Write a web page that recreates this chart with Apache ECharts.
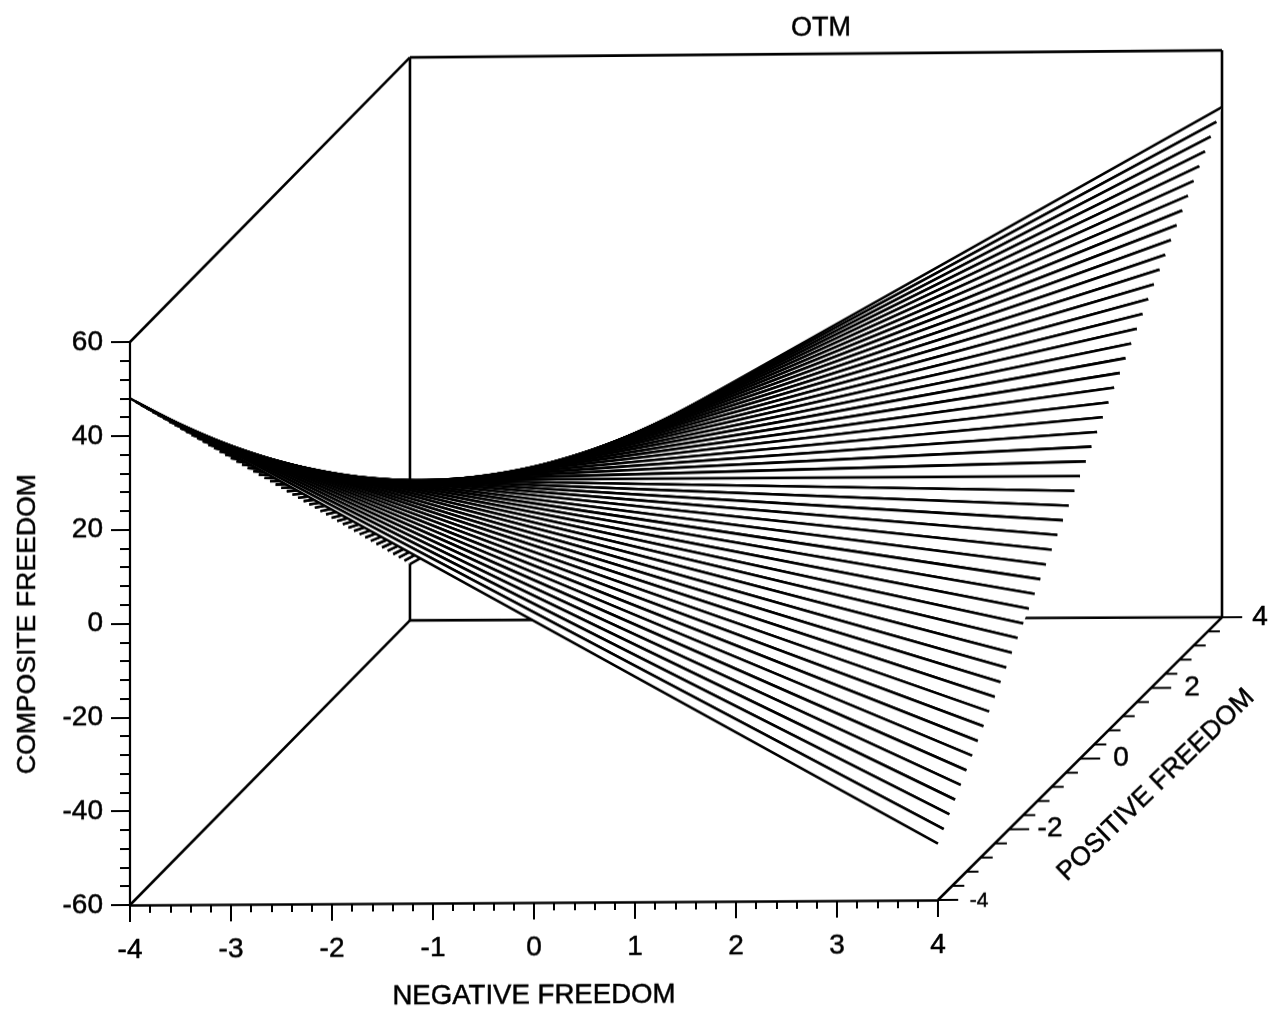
<!DOCTYPE html>
<html><head><meta charset="utf-8">
<style>
html,body{margin:0;padding:0;background:#fff;overflow:hidden}
#c{width:1271px;height:1015px;transform-origin:130px 905px;transform:skewY(-0.355deg)}
</style>
<script src="https://cdn.jsdelivr.net/npm/echarts@6/dist/echarts.min.js"></script>
</head><body><div id="c"></div>
<script>
// Values: one line per POSITIVE FREEDOM level, running from NEGATIVE FREEDOM -4 to 4
const positiveLevels=[-4,-3.84,-3.68,-3.52,-3.36,-3.2,-3.04,-2.88,-2.72,-2.56,-2.4,-2.24,-2.08,-1.92,-1.76,-1.6,-1.44,-1.28,-1.12,-0.96,-0.8,-0.64,-0.48,-0.32,-0.16,0,0.16,0.32,0.48,0.64,0.8,0.96,1.12,1.28,1.44,1.6,1.76,1.92,2.08,2.24,2.4,2.56,2.72,2.88,3.04,3.2,3.36,3.52,3.68,3.84,4];
const compositeAtLeft=[48,46.08,44.16,42.24,40.32,38.4,36.48,34.56,32.64,30.72,28.8,26.88,24.96,23.04,21.12,19.2,17.28,15.36,13.44,11.52,9.6,7.68,5.76,3.84,1.92,0,-1.92,-3.84,-5.76,-7.68,-9.6,-11.52,-13.44,-15.36,-17.28,-19.2,-21.12,-23.04,-24.96,-26.88,-28.8,-30.72,-32.64,-34.56,-36.48,-38.4,-40.32,-42.24,-44.16,-46.08,-48];
const compositeAtRight=[-48,-46.08,-44.16,-42.24,-40.32,-38.4,-36.48,-34.56,-32.64,-30.72,-28.8,-26.88,-24.96,-23.04,-21.12,-19.2,-17.28,-15.36,-13.44,-11.52,-9.6,-7.68,-5.76,-3.84,-1.92,0,1.92,3.84,5.76,7.68,9.6,11.52,13.44,15.36,17.28,19.2,21.12,23.04,24.96,26.88,28.8,30.72,32.64,34.56,36.48,38.4,40.32,42.24,44.16,46.08,48];
const negativeMin=-4, negativeMax=4, compositeMin=-60, compositeMax=60, positiveMin=-4, positiveMax=4;
const positiveMajorTicks=[-4,-2,0,2,4];
const positiveMinorTicks=[-3.6,-3.2,-2.8,-2.4,-1.6,-1.2,-0.8,-0.4,0.4,0.8,1.2,1.6,2.4,2.8,3.2,3.6];
// cube edges: [negative, positive, composite] -> [negative, positive, composite]
const cubeEdges=[
 [-4,-4,60,-4,4,60],[-4,4,60,4,4,60],[4,4,60,4,4,-60],[-4,4,60,-4,4,-60],
 [-4,-4,-60,-4,4,-60],[-4,4,-60,4,4,-60],[4,-4,-60,4,4,-60]];
const titleText='OTM', xName='NEGATIVE FREEDOM', yName='COMPOSITE FREEDOM', depthName='POSITIVE FREEDOM';

// oblique view: how far the back of the cube shifts, in axis units
const depthShiftX=2.792, depthShiftZ=60.3, backScaleX=0.005, backScaleZ=0.007;
const FONT='"Liberation Sans",Arial,sans-serif';
function project(x,y,z){
  const t=(y-positiveMin)/(positiveMax-positiveMin), u=(x-negativeMin)/(negativeMax-negativeMin);
  return [x*(1+backScaleX*t)+t*depthShiftX,z*(1+backScaleZ*t*u)+t*depthShiftZ];
}

const strips=[];
for(let k=positiveLevels.length-1;k>0;k--){
  strips.push([positiveLevels[k],compositeAtLeft[k],compositeAtRight[k],positiveLevels[k-1],compositeAtLeft[k-1],compositeAtRight[k-1]]);
}
const lineStyle={stroke:'#000',lineWidth:2.6,fill:null};
const heavy={textBorderColor:'#000',textBorderWidth:0.5};
const chart=echarts.init(document.getElementById('c'),null,{renderer:'canvas'});
const base={type:'custom',coordinateSystem:'cartesian2d',clip:false,silent:true,animation:false,encode:{x:0,y:1}};
chart.setOption({
 animation:false,backgroundColor:'#fff',
 title:{text:titleText,left:786,top:14,textStyle:Object.assign({fontFamily:FONT,fontSize:27,fontWeight:'normal',color:'#000'},heavy)},
 grid:{left:130,top:342,width:808,height:563,containLabel:false,outerBoundsMode:'none'},
 xAxis:{type:'value',min:negativeMin,max:negativeMax,interval:1,name:xName,nameLocation:'middle',nameGap:79,
  nameTextStyle:Object.assign({fontFamily:FONT,fontSize:27.6,color:'#000'},heavy),
  axisLine:{show:true,onZero:false,lineStyle:{color:'#000',width:2.6}},
  axisTick:{show:true,length:17,lineStyle:{color:'#000',width:2}},
  minorTick:{show:true,splitNumber:5,length:8,lineStyle:{color:'#000',width:2}},
  splitLine:{show:false},minorSplitLine:{show:false},
  axisLabel:Object.assign({margin:31,fontFamily:FONT,fontSize:28,color:'#000',showMinLabel:true,showMaxLabel:true},heavy)},
 yAxis:{type:'value',min:compositeMin,max:compositeMax,interval:20,name:yName,nameLocation:'middle',nameGap:89,
  nameTextStyle:Object.assign({fontFamily:FONT,fontSize:26.6,color:'#000'},heavy),
  axisLine:{show:true,onZero:false,lineStyle:{color:'#000',width:2.2}},
  axisTick:{show:true,length:19,lineStyle:{color:'#000',width:2}},
  minorTick:{show:true,splitNumber:5,length:10,lineStyle:{color:'#000',width:2}},
  splitLine:{show:false},minorSplitLine:{show:false},
  axisLabel:Object.assign({margin:27,fontFamily:FONT,fontSize:28,color:'#000',showMinLabel:true,showMaxLabel:true},heavy)},
 series:[
  Object.assign({},base,{name:'cube',data:cubeEdges,renderItem(p,api){
    const a=api.coord(project(api.value(0),api.value(1),api.value(2)));
    const b=api.coord(project(api.value(3),api.value(4),api.value(5)));
    return {type:'polyline',shape:{points:[a,b]},style:lineStyle};
  }}),
  Object.assign({},base,{name:'depth ticks',data:positiveMajorTicks.map(v=>[v,0.2]).concat(positiveMinorTicks.map(v=>[v,0.12])),renderItem(p,api){
    const q=project(negativeMax,api.value(0),compositeMin);
    const a=api.coord(q);
    const b=api.coord([q[0]+api.value(1),q[1]]);
    return {type:'polyline',shape:{points:[a,b]},style:{stroke:'#000',lineWidth:2,fill:null}};
  }}),
  Object.assign({},base,{name:'surface',data:strips,renderItem(p,api){
    const y0=api.value(0),l0=api.value(1),r0=api.value(2),y1=api.value(3),l1=api.value(4),r1=api.value(5);
    const A=api.coord(project(negativeMin,y0,l0)),B=api.coord(project(negativeMax,y0,r0));
    const C=api.coord(project(negativeMax,y1,r1)),D=api.coord(project(negativeMin,y1,l1));
    return {type:'group',children:[
      {type:'polygon',shape:{points:[A,B,C,D]},style:{fill:'#fff',stroke:null}},
      {type:'polyline',shape:{points:[A,B]},style:lineStyle},
      {type:'polyline',shape:{points:[D,C]},style:lineStyle}
    ]};
  }}),
  Object.assign({},base,{name:'depth labels',data:positiveMajorTicks.map(v=>[v]),renderItem(p,api){
    const v=api.value(0), a=api.coord(project(negativeMax,v,compositeMin));
    return {type:'text',x:a[0]+(v===positiveMax?38:41),y:a[1]+(v===positiveMin?1:0),style:{text:String(v),align:'center',verticalAlign:'middle',
      fill:'#000',stroke:'#000',lineWidth:0.5,fontFamily:FONT,fontSize:v===positiveMin?21:28}};
  }}),
  Object.assign({},base,{name:'depth name',data:[[0]],renderItem(p,api){
    const a=api.coord(project(negativeMax,api.value(0),compositeMin));
    return {type:'text',x:a[0]+76,y:a[1]+27,rotation:44*Math.PI/180,style:{text:depthName,align:'center',verticalAlign:'middle',
      fill:'#000',stroke:'#000',lineWidth:0.5,fontFamily:FONT,fontSize:26.5}};
  }})
 ]
});
</script></body></html>
